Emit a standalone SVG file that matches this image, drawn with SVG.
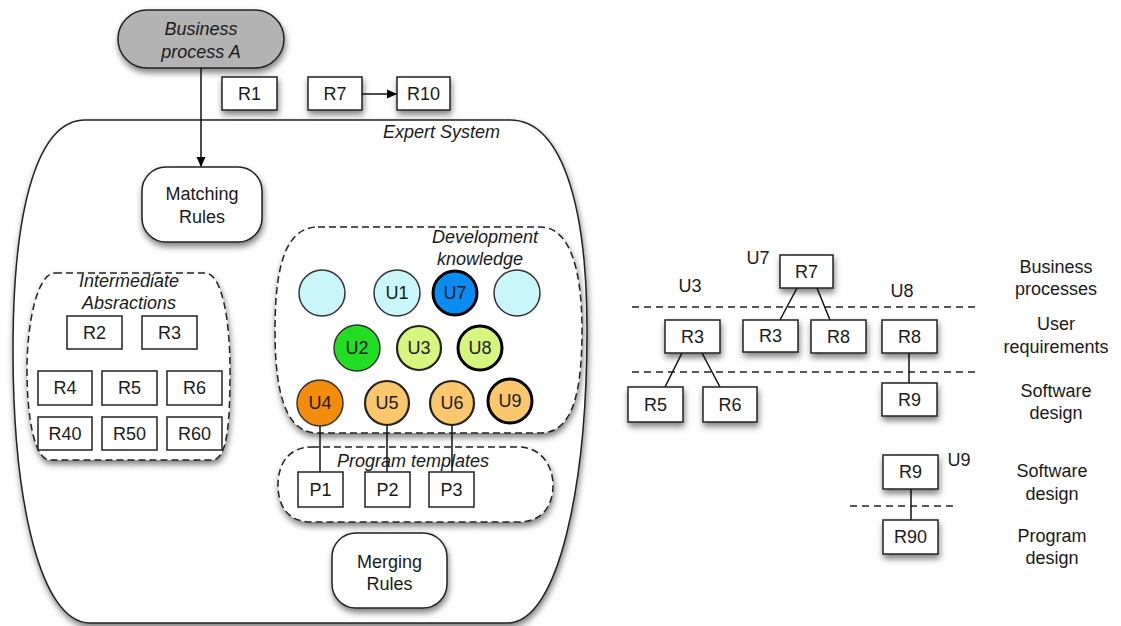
<svg xmlns="http://www.w3.org/2000/svg" width="1121" height="626" viewBox="0 0 1121 626">
<defs>
<filter id="sh" x="-20%" y="-20%" width="150%" height="160%">
<feDropShadow dx="1" dy="4" stdDeviation="3" flood-color="#000" flood-opacity="0.5"/>
</filter>
<marker id="arr" markerWidth="10" markerHeight="10" refX="9" refY="5" orient="auto" markerUnits="userSpaceOnUse">
<path d="M0,0.5 L10,5 L0,9.5 Z" fill="#000"/>
</marker>
<style>
text{font-family:"Liberation Sans",Arial,sans-serif;font-size:18px;fill:#1a1a1a;text-anchor:middle}
.it{font-style:italic}
.box{fill:#fff;stroke:#222;stroke-width:1.5}
.dash{fill:#fff;stroke:#222;stroke-width:1.5;stroke-dasharray:7 4}
.ln{stroke:#111;stroke-width:1.5;fill:none}
.dl{stroke:#222;stroke-width:1.5;stroke-dasharray:7 5;fill:none}
.c{stroke-width:1.5;stroke:#333}
.ct{stroke-width:3;stroke:#000}
</style>
</defs>
<rect width="1121" height="626" fill="#fff"/>

<g id="expert-system">
<path d="M85,120 L510,120 C560,120 587,200 587,330 C587,480 560,623 507,623 L90,623 C40,623 13,500 13,350 C13,200 40,120 85,120 Z" fill="#fff" stroke="#222" stroke-width="1.5" filter="url(#sh)"/>
<text class="it" x="500" y="138" style="text-anchor:end">Expert System</text>
</g>

<g id="business-process-a">
<rect x="118" y="10" width="166" height="58" rx="29" fill="#b3b3b3" stroke="#222" stroke-width="1.5" filter="url(#sh)"/>
<text class="it" x="201" y="35">Business</text>
<text class="it" x="201" y="58">process A</text>
</g>

<g id="r1-top"><rect class="box" x="222" y="77" width="55" height="33" filter="url(#sh)"/><text x="249.5" y="100">R1</text></g>
<g id="r7-top"><rect class="box" x="308" y="77" width="54" height="33" filter="url(#sh)"/><text x="335" y="100">R7</text></g>
<g id="r10-top"><rect class="box" x="397" y="77" width="53" height="33" filter="url(#sh)"/><text x="423.5" y="100">R10</text></g>

<g id="matching-rules">
<rect x="142" y="167" width="120" height="75" rx="24" fill="#fff" stroke="#222" stroke-width="1.5" filter="url(#sh)"/>
<text x="202" y="200">Matching</text>
<text x="202" y="223">Rules</text>
</g>

<g id="intermediate-abstractions">
<path class="dash" d="M55,273 L205,273 C222,273 230,320 230,370 C230,420 228,460 212,460 L50,460 C35,460 27,420 27,370 C27,320 38,273 55,273 Z" filter="url(#sh)"/>
<text class="it" x="129" y="287">Intermediate</text>
<text class="it" x="129" y="309">Absractions</text>
<g id="ia-r2"><rect class="box" x="67" y="316" width="55" height="33"/><text x="94.5" y="339">R2</text></g>
<g id="ia-r3"><rect class="box" x="142" y="316" width="55" height="33"/><text x="169.5" y="339">R3</text></g>
<g id="ia-r4"><rect class="box" x="38" y="371" width="54" height="34"/><text x="65" y="394">R4</text></g>
<g id="ia-r5"><rect class="box" x="102" y="371" width="55" height="34"/><text x="129.5" y="394">R5</text></g>
<g id="ia-r6"><rect class="box" x="167" y="371" width="55" height="34"/><text x="194.5" y="394">R6</text></g>
<g id="ia-r40"><rect class="box" x="38" y="417" width="54" height="33"/><text x="65" y="440">R40</text></g>
<g id="ia-r50"><rect class="box" x="102" y="417" width="55" height="33"/><text x="129.5" y="440">R50</text></g>
<g id="ia-r60"><rect class="box" x="167" y="417" width="55" height="33"/><text x="194.5" y="440">R60</text></g>
</g>

<g id="development-knowledge">
<path class="dash" d="M318,227 L540,227 C570,227 582,270 582,330 C582,400 570,433 540,433 L318,433 C288,433 275,400 275,330 C275,260 288,227 318,227 Z" filter="url(#sh)"/>
<text class="it" x="538" y="243" style="text-anchor:end">Development</text>
<text class="it" x="480" y="265">knowledge</text>
</g>

<g id="program-templates">
<path class="dash" d="M312,447 L518,447 C543,447 553,468 553,485 C553,505 543,522 518,522 L312,522 C287,522 278,505 278,485 C278,466 287,447 312,447 Z" filter="url(#sh)"/>
<text class="it" x="413" y="467">Program templates</text>
</g>

<g id="connectors">
<line class="ln" x1="201" y1="68" x2="201" y2="166" marker-end="url(#arr)"/>
<line class="ln" x1="362" y1="94" x2="396" y2="94" marker-end="url(#arr)"/>
<line class="ln" x1="320" y1="426" x2="320" y2="472"/>
<line class="ln" x1="387" y1="426" x2="387" y2="472"/>
<line class="ln" x1="452" y1="426" x2="452" y2="472"/>
<line class="ln" x1="797" y1="288" x2="780" y2="320"/>
<line class="ln" x1="817" y1="288" x2="830" y2="320"/>
<line class="ln" x1="682" y1="353" x2="665" y2="387"/>
<line class="ln" x1="702" y1="353" x2="720" y2="387"/>
<line class="ln" x1="909" y1="353" x2="909" y2="383"/>
<line class="ln" x1="911" y1="489" x2="911" y2="520"/>
</g>

<g id="u-empty1"><circle class="c" cx="322" cy="293" r="23" fill="#c8f6fa"/></g>
<g id="u1"><circle class="c" cx="397" cy="293" r="23" fill="#c8f6fa" stroke="#666"/><text x="397" y="299">U1</text></g>
<g id="u7"><circle class="ct" cx="455" cy="293" r="22" fill="#0a8cf0"/><text x="455" y="299">U7</text></g>
<g id="u-empty2"><circle class="c" cx="517" cy="293" r="23" fill="#c8f6fa" stroke="#666"/></g>
<g id="u2"><circle class="c" cx="357" cy="348" r="23" fill="#22dd22"/><text x="357" y="354">U2</text></g>
<g id="u3"><circle cx="419" cy="348" r="22" fill="#d6f57e" stroke="#222" stroke-width="2.2"/><text x="419" y="354">U3</text></g>
<g id="u8"><circle class="ct" cx="480" cy="348" r="22" fill="#d6f57e"/><text x="480" y="354">U8</text></g>
<g id="u4"><circle class="c" cx="320" cy="403" r="23" fill="#f28c0a"/><text x="320" y="409">U4</text></g>
<g id="u5"><circle cx="387" cy="403" r="22" fill="#fac76c" stroke="#222" stroke-width="2.2"/><text x="387" y="409">U5</text></g>
<g id="u6"><circle cx="452" cy="403" r="22" fill="#fac76c" stroke="#222" stroke-width="2.2"/><text x="452" y="409">U6</text></g>
<g id="u9"><circle class="ct" cx="510" cy="401" r="22" fill="#fac76c"/><text x="510" y="407">U9</text></g>

<g id="p1"><rect class="box" x="298" y="472" width="45" height="35"/><text x="320.5" y="496">P1</text></g>
<g id="p2"><rect class="box" x="365" y="472" width="45" height="35"/><text x="387.5" y="496">P2</text></g>
<g id="p3"><rect class="box" x="429" y="472" width="45" height="35"/><text x="451.5" y="496">P3</text></g>

<g id="merging-rules">
<rect x="332" y="533" width="115" height="75" rx="24" fill="#fff" stroke="#222" stroke-width="1.5" filter="url(#sh)"/>
<text x="389.5" y="568">Merging</text>
<text x="389.5" y="590">Rules</text>
</g>

<g id="right-layers">
<line class="dl" x1="632" y1="307" x2="980" y2="307"/>
<line class="dl" x1="632" y1="372" x2="980" y2="372"/>
<line class="dl" x1="850" y1="506" x2="958" y2="506"/>
<text x="758" y="264">U7</text>
<text x="690" y="292">U3</text>
<text x="902" y="297">U8</text>
<text x="959" y="466">U9</text>
<text x="1056" y="273">Business</text>
<text x="1056" y="295">processes</text>
<text x="1056" y="330">User</text>
<text x="1056" y="353">requirements</text>
<text x="1056" y="397">Software</text>
<text x="1056" y="419">design</text>
<text x="1052" y="477">Software</text>
<text x="1052" y="500">design</text>
<text x="1052" y="542">Program</text>
<text x="1052" y="564">design</text>
</g>

<g id="rt-r7"><rect class="box" x="780" y="255" width="53" height="33" filter="url(#sh)"/><text x="806.5" y="278">R7</text></g>
<g id="rt-r3a"><rect class="box" x="665" y="320" width="55" height="33" filter="url(#sh)"/><text x="692.5" y="343">R3</text></g>
<g id="rt-r3b"><rect class="box" x="743" y="320" width="55" height="32" filter="url(#sh)"/><text x="770.5" y="342">R3</text></g>
<g id="rt-r8a"><rect class="box" x="811" y="320" width="55" height="33" filter="url(#sh)"/><text x="838.5" y="343">R8</text></g>
<g id="rt-r8b"><rect class="box" x="882" y="320" width="55" height="33" filter="url(#sh)"/><text x="909.5" y="343">R8</text></g>
<g id="rt-r5"><rect class="box" x="628" y="387" width="55" height="35" filter="url(#sh)"/><text x="655.5" y="411">R5</text></g>
<g id="rt-r6"><rect class="box" x="703" y="387" width="54" height="35" filter="url(#sh)"/><text x="730" y="411">R6</text></g>
<g id="rt-r9a"><rect class="box" x="882" y="383" width="55" height="33" filter="url(#sh)"/><text x="909.5" y="406">R9</text></g>
<g id="rt-r9b"><rect class="box" x="883" y="455" width="55" height="34" filter="url(#sh)"/><text x="910.5" y="478">R9</text></g>
<g id="rt-r90"><rect class="box" x="883" y="520" width="55" height="34" filter="url(#sh)"/><text x="910.5" y="543">R90</text></g>
</svg>
